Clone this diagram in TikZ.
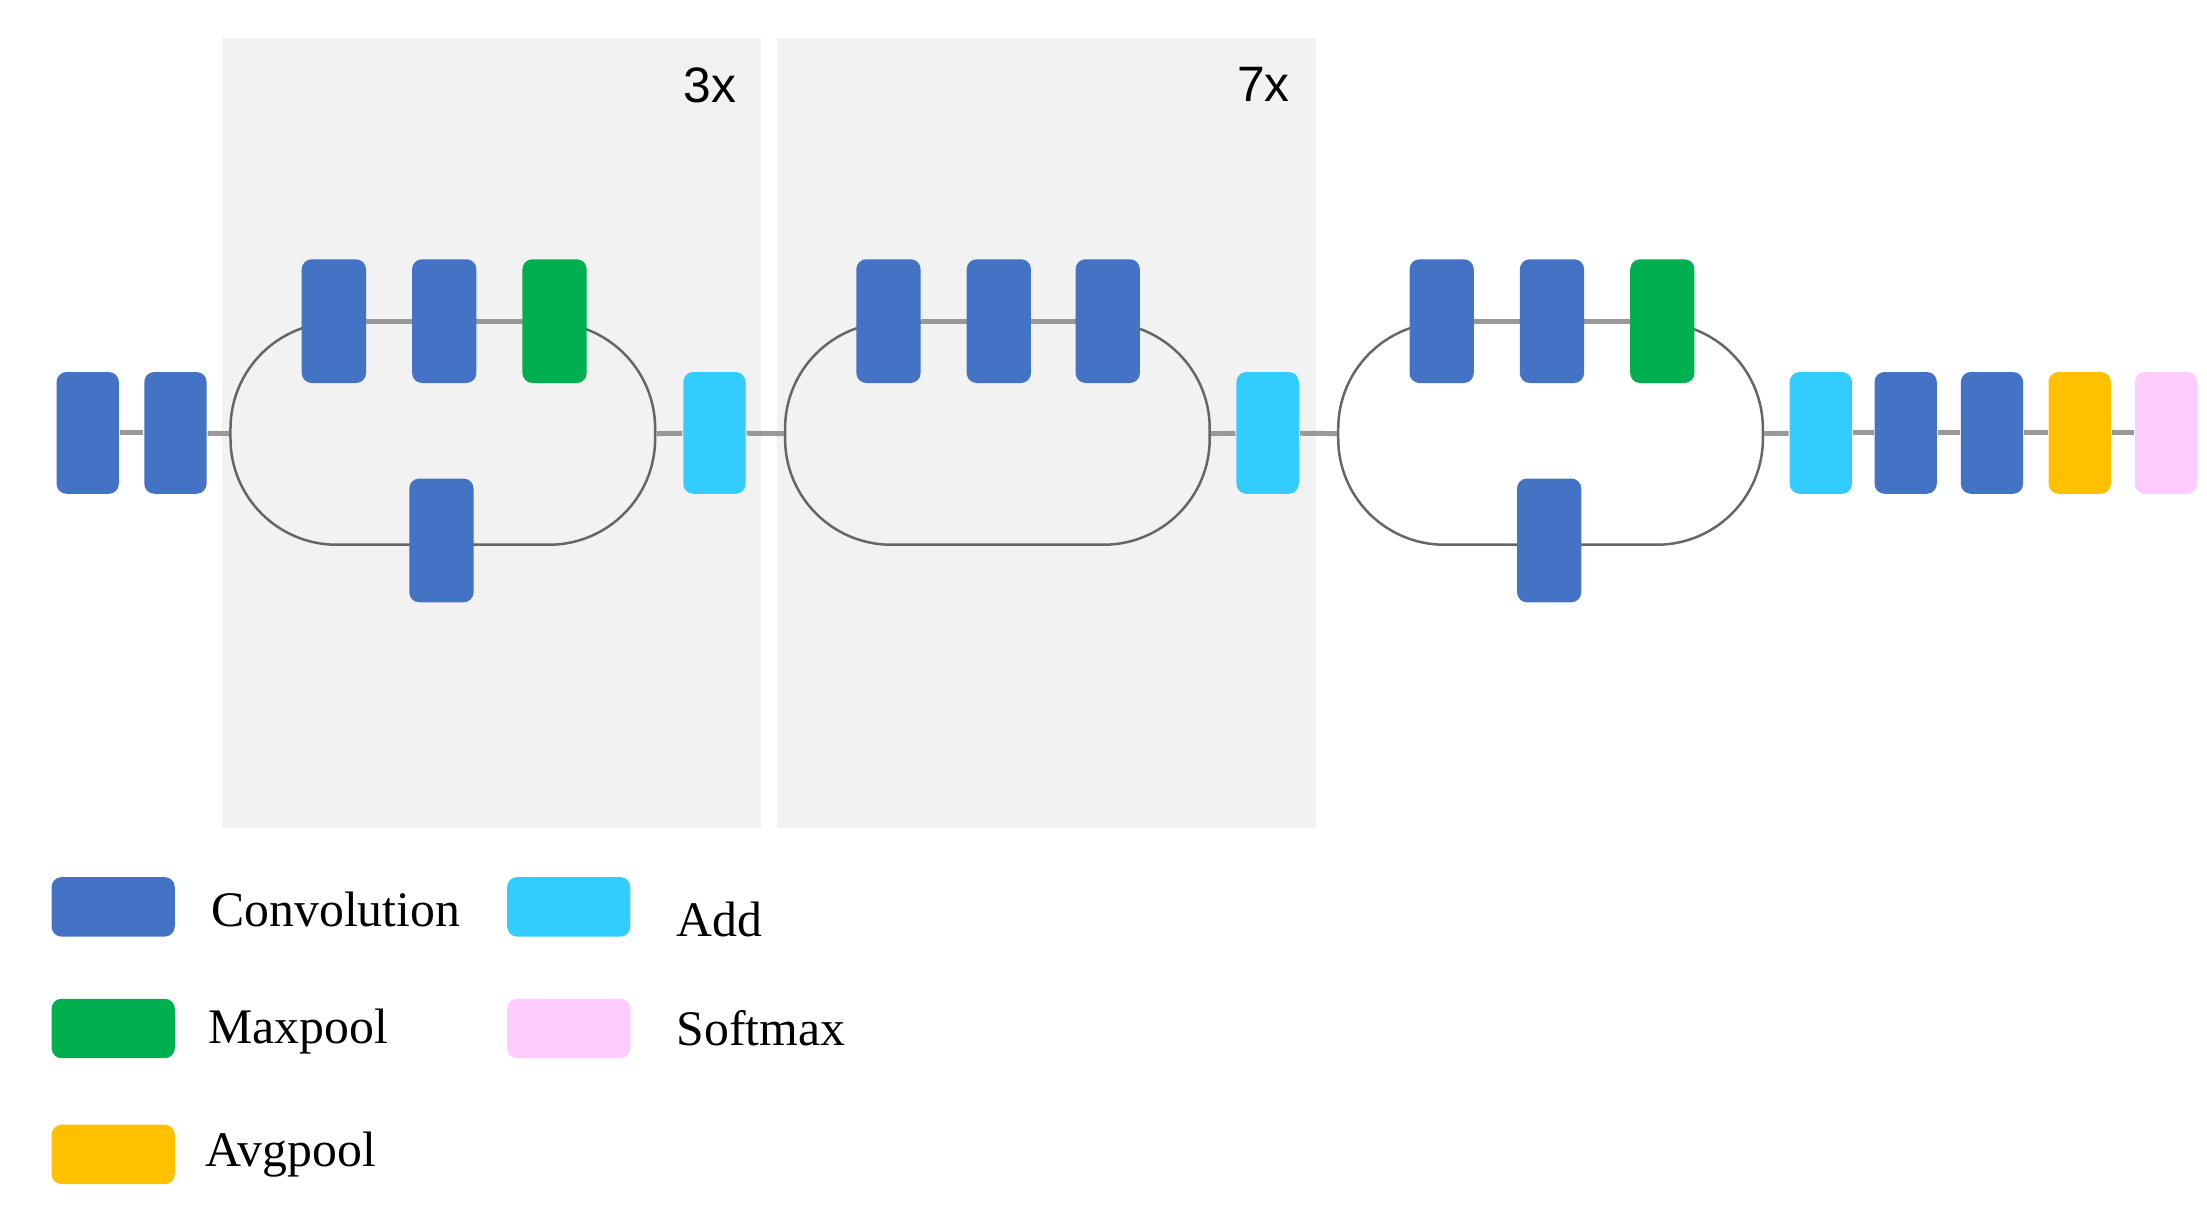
\documentclass[tikz,border=0pt]{standalone}
\usepackage{fontspec}
\setmainfont{Liberation Serif}
\newfontfamily\sansf{Liberation Sans}
\definecolor{conv}{HTML}{4472C4}
\definecolor{mpool}{HTML}{00B050}
\definecolor{addc}{HTML}{33CCFF}
\definecolor{apool}{HTML}{FFC000}
\definecolor{smax}{HTML}{FFCCFF}
\definecolor{bgg}{HTML}{F2F2F2}
\begin{document}
\begin{tikzpicture}[x=0.01cm,y=-0.01cm,
 blk/.style={minimum width=0.44cm,minimum height=0.86cm,rounded corners=2pt,inner sep=0pt,draw=none},
 cv/.style={blk,fill=conv}, mp/.style={blk,fill=mpool}, ad/.style={blk,fill=addc},
 ap/.style={blk,fill=apool}, sm/.style={blk,fill=smax},
 lg/.style={minimum width=0.87cm,minimum height=0.42cm,rounded corners=2pt,inner sep=0pt},
 loop/.style={draw=black!60,line width=0.5pt,minimum width=3cm,minimum height=1.57cm,rounded corners=0.75cm,inner sep=0pt},
 ln/.style={draw=black!40,line width=1pt},
 lt/.style={font=\fontsize{10pt}{12pt}\selectfont,anchor=west},
 rep/.style={font=\sansf\fontsize{10pt}{12pt}\selectfont}]
\useasboundingbox (0,0) rectangle (1560,855);
\fill[bgg] (157,27) rectangle (538,585);
\fill[bgg] (549,27) rectangle (930,585);
\node[rep] (r1) at (502,60) {3x};
\node[rep] (r2) at (893,60) {7x};
% loops
\node[loop] (L1) at (313,306.5) {};
\node[loop] (L2) at (705,306.5) {};
\node[loop] (L3) at (1096,306.5) {};
% blocks
\node[cv] (a1) at (62,306) {};
\node[cv] (a2) at (124,306) {};
\node[cv] (t11) at (236,227) {};
\node[cv] (t12) at (314,227) {};
\node[mp] (t13) at (392,227) {};
\node[cv] (b1) at (312,382) {};
\node[ad] (d1) at (505,306) {};
\node[cv] (t21) at (628,227) {};
\node[cv] (t22) at (706,227) {};
\node[cv] (t23) at (783,227) {};
\node[ad] (d2) at (896,306) {};
\node[cv] (t31) at (1019,227) {};
\node[cv] (t32) at (1097,227) {};
\node[mp] (t33) at (1175,227) {};
\node[cv] (b3) at (1095,382) {};
\node[ad] (d3) at (1287,306) {};
\node[cv] (e1) at (1347,306) {};
\node[cv] (e2) at (1408,306) {};
\node[ap] (e3) at (1470,306) {};
\node[sm] (e4) at (1531,306) {};
% connectors
\draw[ln] (a1) -- (a2); \draw[ln] (a2) -- (L1.west);
\draw[ln] (L1.east) -- (d1); \draw[ln] (d1) -- (L2.west);
\draw[ln] (L2.east) -- (d2); \draw[ln] (d2) -- (L3.west);
\draw[ln] (L3.east) -- (d3); \draw[ln] (d3) -- (e1); \draw[ln] (e1) -- (e2);
\draw[ln] (e2) -- (e3); \draw[ln] (e3) -- (e4);
\draw[ln] (t11) -- (t12); \draw[ln] (t12) -- (t13);
\draw[ln] (t21) -- (t22); \draw[ln] (t22) -- (t23);
\draw[ln] (t31) -- (t32); \draw[ln] (t32) -- (t33);
% redraw blocks on top of loop lines
\foreach \n in {t11,t12,t21,t22,t23,t31,t32,b1,b3} \fill[conv,rounded corners=2pt] (\n.south west) rectangle (\n.north east);
\foreach \n in {t13,t33} \fill[mpool,rounded corners=2pt] (\n.south west) rectangle (\n.north east);
% legend
\node[lg,fill=conv] (k1) at (80,641) {};
\node[lt] (k1t) at (137,643) {Convolution};
\node[lg,fill=mpool] (k2) at (80,727) {};
\node[lt] (k2t) at (135,729) {Maxpool};
\node[lg,fill=apool] (k3) at (80,816) {};
\node[lt] (k3t) at (133,816) {Avgpool};
\node[lg,fill=addc] (k4) at (402,641) {};
\node[lt] (k4t) at (466,650) {Add};
\node[lg,fill=smax] (k5) at (402,727) {};
\node[lt] (k5t) at (466,727) {Softmax};
\end{tikzpicture}
\end{document}
